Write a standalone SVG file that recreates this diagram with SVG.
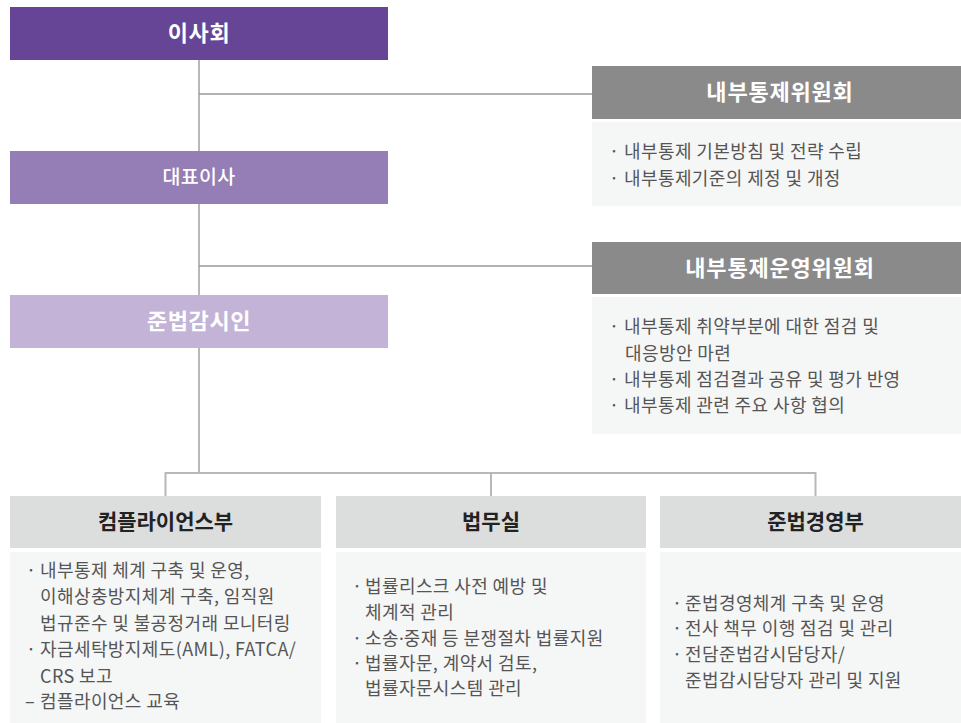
<svg xmlns="http://www.w3.org/2000/svg" width="961" height="723" viewBox="0 0 961 723">
<style>
text{font-family:"Noto Sans CJK KR","Noto Sans",sans-serif}
.t1{fill:#fff;font-size:22px;font-weight:700;text-anchor:middle;letter-spacing:0.6px}
.t2{fill:#fff;font-size:19.5px;font-weight:500;text-anchor:middle;letter-spacing:0.3px}
.th{fill:#fff;font-size:22px;font-weight:700;text-anchor:middle;letter-spacing:0.8px}
.tb{fill:#222;font-size:21px;font-weight:700;text-anchor:middle}
.body{fill:#555;font-size:18px;letter-spacing:0.4px}
.dot{font-family:"Noto Sans",sans-serif;letter-spacing:0}
.ln{stroke:#b8b8b8;stroke-width:2;fill:none}
.ln2{stroke:#9a9a9a;stroke-width:1.5;fill:none}
.hd{fill:#8a8a8a}
.hb{fill:#dcdddd}
.bd{fill:#f5f6f6}
</style>
<g id="connectors">
<path class="ln" d="M199 60V473"/>
<path class="ln2" d="M199 94H592M199 266H592"/>
<path class="ln" d="M165.5 473H815.5M165.5 472V496M491 472V496M815.5 472V496"/>
</g>
<g id="board">
<rect x="10" y="7" width="378" height="53" fill="#664596"/>
<text class="t1" x="199" y="41">이사회</text>
</g>
<g id="ceo">
<rect x="10" y="151" width="378" height="53" fill="#957db5"/>
<text class="t2" x="199" y="184">대표이사</text>
</g>
<g id="cco">
<rect x="10" y="295" width="378" height="53" fill="#c3b3d7"/>
<text class="t1" x="199" y="329">준법감시인</text>
</g>
<g id="icc">
<rect class="hd" x="592" y="66" width="369" height="53"/>
<text class="th" x="780" y="100">내부통제위원회</text>
<rect class="bd" x="592" y="122" width="369" height="84"/>
<text class="body"><tspan x="609" y="158">·</tspan><tspan x="624" y="158">내부통제 기본방침 및 전략 수립</tspan><tspan x="609" y="184.5">·</tspan><tspan x="624" y="184.5">내부통제기준의 제정 및 개정</tspan></text>
</g>
<g id="icoc">
<rect class="hd" x="592" y="242" width="369" height="52"/>
<text class="th" x="780" y="276">내부통제운영위원회</text>
<rect class="bd" x="592" y="297" width="369" height="137"/>
<text class="body"><tspan x="609" y="333">·</tspan><tspan x="624" y="333">내부통제 취약부분에 대한 점검 및</tspan><tspan x="625" y="359.5">대응방안 마련</tspan><tspan x="609" y="386">·</tspan><tspan x="624" y="386">내부통제 점검결과 공유 및 평가 반영</tspan><tspan x="609" y="411.5">·</tspan><tspan x="624" y="411.5">내부통제 관련 주요 사항 협의</tspan></text>
</g>
<g id="compliance">
<rect class="hb" x="10" y="496" width="311" height="52"/>
<text class="tb" x="165.5" y="529">컴플라이언스부</text>
<rect class="bd" x="10" y="552" width="311" height="171"/>
<text class="body"><tspan x="26" y="576.5">·</tspan><tspan x="40" y="576.5">내부통제 체계 구축 및 운영,</tspan><tspan x="40" y="603">이해상충방지체계 구축, 임직원</tspan><tspan x="40" y="629.5">법규준수 및 불공정거래 모니터링</tspan><tspan x="26" y="656">·</tspan><tspan x="40" y="656">자금세탁방지제도(AML), FATCA/</tspan><tspan x="40" y="682.5">CRS 보고</tspan><tspan x="25" y="707.5">–</tspan><tspan x="40" y="707.5">컴플라이언스 교육</tspan></text>
</g>
<g id="legal">
<rect class="hb" x="336" y="496" width="310" height="52"/>
<text class="tb" x="491" y="529">법무실</text>
<rect class="bd" x="336" y="552" width="310" height="171"/>
<text class="body"><tspan x="352" y="593">·</tspan><tspan x="365" y="593">법률리스크 사전 예방 및</tspan><tspan x="365" y="618.5">체계적 관리</tspan><tspan x="352" y="644.5">·</tspan><tspan x="365" y="644.5">소송</tspan><tspan class="dot">·</tspan><tspan>중재 등 분쟁절차 법률지원</tspan><tspan x="352" y="670">·</tspan><tspan x="365" y="670">법률자문, 계약서 검토,</tspan><tspan x="365" y="695">법률자문시스템 관리</tspan></text>
</g>
<g id="compliance-mgmt">
<rect class="hb" x="660" y="496" width="301" height="52"/>
<text class="tb" x="815.5" y="529">준법경영부</text>
<rect class="bd" x="660" y="552" width="301" height="171"/>
<text class="body"><tspan x="672" y="609.5">·</tspan><tspan x="685" y="609.5">준법경영체계 구축 및 운영</tspan><tspan x="672" y="635">·</tspan><tspan x="685" y="635">전사 책무 이행 점검 및 관리</tspan><tspan x="672" y="660.5">·</tspan><tspan x="685" y="660.5">전담준법감시담당자/</tspan><tspan x="685" y="686.5">준법감시담당자 관리 및 지원</tspan></text>
</g>
</svg>
